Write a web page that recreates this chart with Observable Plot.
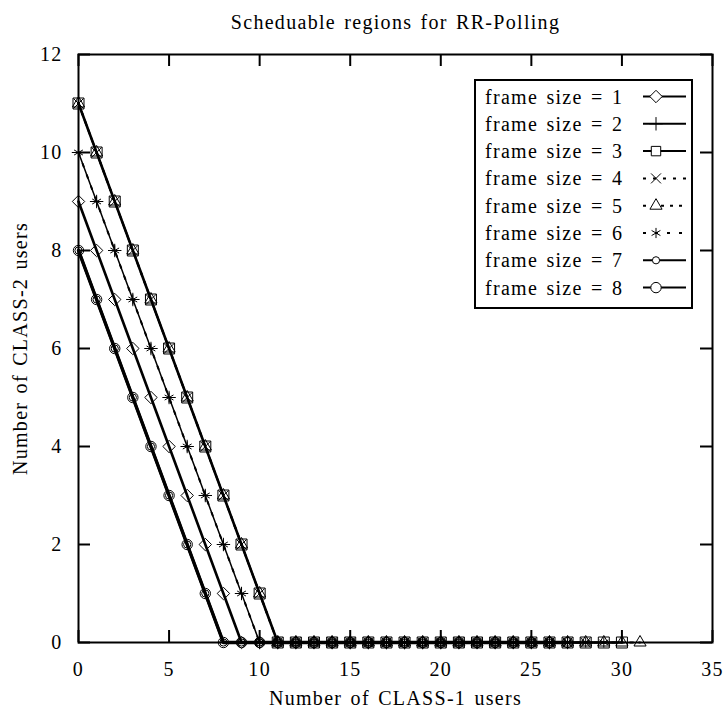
<!DOCTYPE html>
<html><head><meta charset="utf-8">
<script src="https://cdn.jsdelivr.net/npm/d3@7"></script>
<script src="https://cdn.jsdelivr.net/npm/@observablehq/plot@0.6"></script>
<style>body{margin:0;background:#fff} svg{font-family:"Liberation Serif",serif}</style>
</head><body><div id="chart"></div>
<script>
const class1Users = [0,1,2,3,4,5,6,7,8,9,10,11,12,13,14,15,16,17,18,19,20,21,22,23,24,25,26,27,28,29,30,31];
const fs1 = [9,8,7,6,5,4,3,2,1,0,0,0,0,0,0,0,0,0,0,0,0,0,0,0,0,0,0];
const fs2 = [10,9,8,7,6,5,4,3,2,1,0,0,0,0,0,0,0,0,0,0,0,0,0,0,0,0,0,0];
const fs3 = [11,10,9,8,7,6,5,4,3,2,1,0,0,0,0,0,0,0,0,0,0,0,0,0,0,0,0,0,0,0,0];
const fs4 = [11,10,9,8,7,6,5,4,3,2,1,0,0,0,0,0,0,0,0,0,0,0,0,0,0,0,0,0,0];
const fs5 = [11,10,9,8,7,6,5,4,3,2,1,0,0,0,0,0,0,0,0,0,0,0,0,0,0,0,0,0,0,0,0,0];
const fs6 = [10,9,8,7,6,5,4,3,2,1,0,0,0,0,0,0,0,0,0,0,0,0,0,0,0,0,0,0,0,0];
const fs7 = [8,7,6,5,4,3,2,1,0,0,0,0,0,0,0,0,0,0,0,0,0,0,0,0,0,0,0];
const fs8 = [8,7,6,5,4,3,2,1,0,0,0,0,0,0,0,0,0,0,0,0,0,0,0,0,0,0,0,0];
const seriesNames = ["frame size = 1","frame size = 2","frame size = 3","frame size = 4","frame size = 5","frame size = 6","frame size = 7","frame size = 8"];
const seriesValues = [fs1, fs2, fs3, fs4, fs5, fs6, fs7, fs8];
const xTicks = [0,5,10,15,20,25,30,35];
const yTicks = [0,2,4,6,8,10,12];

const styles = [
  {symbol:"diamond2", r:5.6, dash:null, w:2.6},
  {symbol:"plus", r:4.4, dash:null, w:1.5},
  {symbol:"square2", r:7.0, dash:null, w:2.6},
  {symbol:"times", r:4.6, dash:"3,7", w:2},
  {symbol:"triangle2", r:5.8, dash:"3,6", w:2},
  {symbol:"asterisk", r:4.8, dash:"3,9", w:2},
  {symbol:"circle", r:3.6, dash:null, w:2.8},
  {symbol:"circle", r:5.2, dash:null, w:3.4}
];

const W = 725, H = 711;
const mL = 78, mR = 13, mT = 54, mB = 69;
const fw = W - mL - mR, fh = H - mT - mB;
const font = "Liberation Serif";

const marks = [];
seriesValues.forEach((vals, i) => {
  const d = vals.map((v, j) => ({x: class1Users[j], y: v}));
  marks.push(Plot.line(d, {x:"x", y:"y", stroke:"black", strokeWidth:styles[i].w, strokeDasharray: styles[i].dash || undefined}));
  marks.push(Plot.dot(d, {x:"x", y:"y", symbol: () => styles[i].symbol, r: styles[i].r, stroke:"black", strokeWidth:1, fill:"none"}));
});

const plot = Plot.plot({
  width: W, height: H,
  marginLeft: mL, marginRight: mR, marginTop: mT, marginBottom: mB,
  x: {domain:[0,35]},
  y: {domain:[0,12]},
  style: {fontFamily: font, fontSize: "20px", color: "black", background: "white"},
  marks: [
    ...marks,
    Plot.ruleX(xTicks, {x: d => d, insetTop: fh - 12, stroke:"black", strokeWidth:2}),
    Plot.ruleX(xTicks, {x: d => d, insetBottom: fh - 12, stroke:"black", strokeWidth:2}),
    Plot.ruleY(yTicks, {y: d => d, insetRight: fw - 12, stroke:"black", strokeWidth:2}),
    Plot.ruleY(yTicks, {y: d => d, insetLeft: fw - 12, stroke:"black", strokeWidth:2}),
    Plot.frame({stroke:"black", strokeWidth:2}),
    Plot.axisX(xTicks, {anchor:"bottom", tickSize:0, tickPadding:19, label:null, fontSize:20}),
    Plot.axisY(yTicks, {anchor:"left", tickSize:0, tickPadding:16, label:null, fontSize:20}),
    Plot.text(["Scheduable regions for RR-Polling"], {frameAnchor:"top", dy:-32, lineAnchor:"middle", textAnchor:"middle", fontSize:20}),
    Plot.text(["Number of CLASS-1 users"], {frameAnchor:"bottom", dy:56, lineAnchor:"middle", textAnchor:"middle", fontSize:20}),
    Plot.text(["Number of CLASS-2 users"], {frameAnchor:"left", dx:-58, rotate:-90, lineAnchor:"middle", textAnchor:"middle", fontSize:20})
  ]
});
document.getElementById("chart").appendChild(plot);

const svg = d3.select(plot);
svg.selectAll("text").style("letter-spacing","1.3px").style("word-spacing","2px");

// legend box (layout element, pixel positioned)
const lg = svg.append("g").attr("class","legend");
const bx = 475, by = 80, bw = 217, bh = 228;
lg.append("rect").attr("x",bx).attr("y",by).attr("width",bw).attr("height",bh)
  .attr("fill","white").attr("stroke","black").attr("stroke-width",2);
const symMap = {diamond2:d3.symbolDiamond2, plus:d3.symbolPlus, square2:d3.symbolSquare2, times:d3.symbolTimes, triangle2:d3.symbolTriangle2, asterisk:d3.symbolAsterisk, circle:d3.symbolCircle};
seriesNames.forEach((name, i) => {
  const cy = 96.5 + 27.3 * i;
  lg.append("text").attr("x", 485).attr("y", cy).attr("dy","0.35em").attr("text-anchor","start")
    .attr("font-family", font).attr("font-size", 20)
    .style("letter-spacing","1.3px").style("word-spacing","2px")
    .attr("fill","black").text(name);
  lg.append("line").attr("x1",643).attr("x2",686).attr("y1",cy).attr("y2",cy)
    .attr("stroke","black").attr("stroke-width",2).attr("stroke-dasharray", styles[i].dash);
  const s = styles[i];
  lg.append("path").attr("transform",`translate(656,${cy})`)
    .attr("d", d3.symbol(symMap[s.symbol], Math.min(s.r, 6) ** 2 * Math.PI)())
    .attr("fill","white").attr("stroke","black").attr("stroke-width",1);
});
</script></body></html>
